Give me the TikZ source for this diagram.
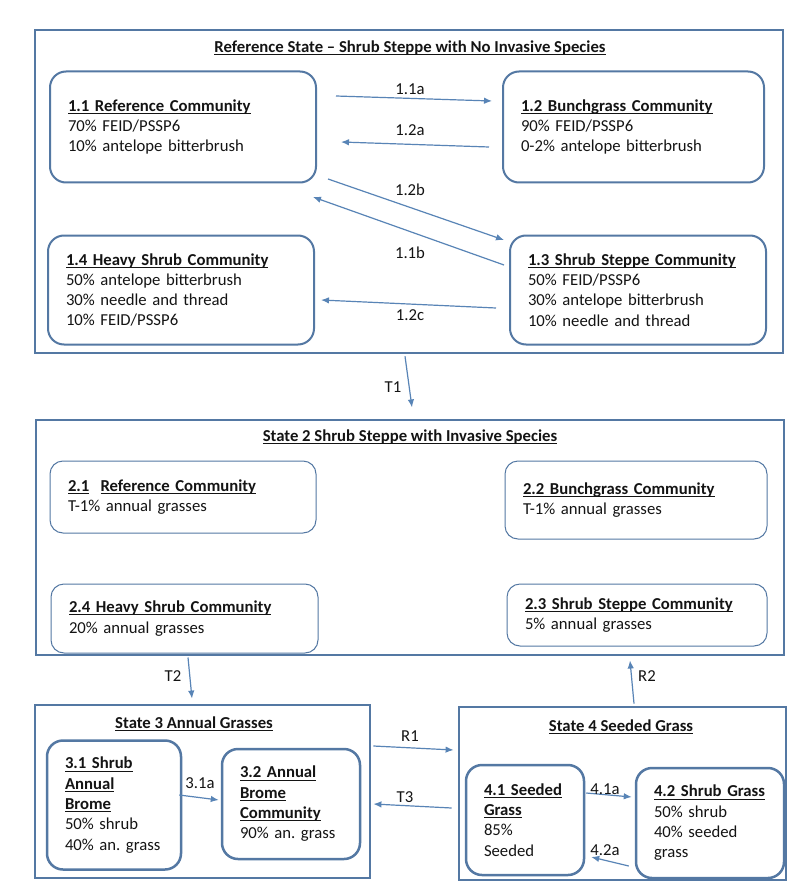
\documentclass[tikz,border=0pt]{standalone}
\usepackage{fontspec}
\setmainfont{Carlito}
\usetikzlibrary{calc,arrows.meta}
\definecolor{boxcol}{RGB}{84,120,163}
\definecolor{arrcol}{RGB}{88,132,182}
\definecolor{txt}{RGB}{20,20,20}
\newcommand\myul[1]{\setbox0\hbox{#1}\rlap{\rule[-2.6pt]{\wd0}{0.9pt}}\box0}
\frenchspacing
\begin{document}
\begin{tikzpicture}[x=1pt,y=-1pt,
  font=\fontsize{16.7}{20.3}\selectfont\frenchspacing, text=txt,
  statebox/.style={draw=boxcol, line width=2.5pt, inner sep=0pt},
  thinstate/.style={draw=boxcol, line width=1.1pt, inner sep=0pt},
  comm/.style={draw=boxcol, line width=2pt, rounded corners=16pt, align=left, inner xsep=18pt, inner ysep=0pt},
  thincomm/.style={comm, line width=1pt, rounded corners=13pt},
  arr/.style={draw=arrcol, line width=1.2pt, -{Latex[length=8pt,width=6.5pt]}},
  lbl/.style={inner sep=0pt},
  ttl/.style={font=\fontsize{16.7}{20.3}\selectfont\bfseries, inner sep=0pt}]
\useasboundingbox (0,0) rectangle (800,896);
\fill[white] (0,0) rectangle (800,896);

% State boxes
\node[statebox, minimum width=748pt, minimum height=323pt] (s1) at (409,191.5) {};
\node[thinstate, minimum width=748pt, minimum height=235pt] (s2) at (410,537.5) {};
\node[statebox, line width=2.8pt, minimum width=335pt, minimum height=173pt] (s3) at (202.5,791.5) {};
\node[statebox, line width=2.8pt, minimum width=327pt, minimum height=173pt] (s4) at (622.5,793.5) {};

\node[ttl] (t1) at (410,48) {\myul{Reference State – Shrub Steppe with No Invasive Species}};
\node[ttl] (t2) at (410,437) {\myul{State 2 Shrub Steppe with Invasive Species}};
\node[ttl] (t3) at (194,724) {\myul{State 3 Annual Grasses}};
\node[ttl] (t4) at (621,727) {\myul{State 4 Seeded Grass}};

% State 1 communities
\node[comm, text width=230pt, minimum height=111pt] (c11) at (183,127)
  {\textbf{\myul{1.1 Reference Community}}\\70\% FEID/PSSP6\\10\% antelope bitterbrush};
\node[comm, text width=225pt, minimum height=111pt] (c12) at (633.5,127)
  {\textbf{\myul{1.2 Bunchgrass Community}}\\90\% FEID/PSSP6\\0-2\% antelope bitterbrush};
\node[comm, text width=220pt, minimum height=109pt] (c13) at (638,290)
  {\textbf{\myul{1.3 Shrub Steppe Community}}\\50\% FEID/PSSP6\\30\% antelope bitterbrush\\10\% needle and thread};
\node[comm, text width=230pt, minimum height=109pt] (c14) at (181,290)
  {\textbf{\myul{1.4 Heavy Shrub Community}}\\50\% antelope bitterbrush\\30\% needle and thread\\10\% FEID/PSSP6};

% State 2 communities
\node[thincomm, text width=230pt, minimum height=72pt] (c21) at (183,497)
  {\textbf{\myul{2.1}\ \ \myul{Reference Community}}\\T-1\% annual grasses};
\node[thincomm, text width=226pt, minimum height=78pt] (c22) at (636,500)
  {\textbf{\myul{2.2 Bunchgrass Community}}\\T-1\% annual grasses};
\node[thincomm, text width=224pt, minimum height=62pt] (c23) at (637,615)
  {\textbf{\myul{2.3 Shrub Steppe Community}}\\5\% annual grasses};
\node[thincomm, text width=231pt, minimum height=69pt] (c24) at (184.5,618.5)
  {\textbf{\myul{2.4 Heavy Shrub Community}}\\20\% annual grasses};

% State 3 communities
\node[comm, line width=2.5pt, text width=98pt, minimum height=129pt] (c31) at (114,805)
  {\textbf{\myul{3.1 Shrub}}\\\textbf{\myul{Annual}}\\\textbf{\myul{Brome}}\\50\% shrub\\40\% an. grass};
\node[comm, line width=2.5pt, text width=102pt, minimum height=110pt] (c32) at (291,804)
  {\textbf{\myul{3.2 Annual}}\\\textbf{\myul{Brome}}\\\textbf{\myul{Community}}\\90\% an. grass};

% State 4 communities
\node[comm, line width=2.5pt, text width=82pt, minimum height=110pt] (c41) at (525,820)
  {\textbf{\myul{4.1 Seeded}}\\\textbf{\myul{Grass}}\\85\%\\Seeded};
\node[comm, line width=2.5pt, text width=112pt, minimum height=110pt] (c42) at (710,823)
  {\textbf{\myul{4.2 Shrub Grass}}\\50\% shrub\\40\% seeded\\grass};

% Arrows within state 1
\draw[arr] ($(c11.east)+(19,-31)$) -- ($(c12.west)+(-10,-26)$);
\draw[arr] ($(c12.west)+(-13,20)$) -- ($(c11.east)+(24,15)$);
\draw[arr] ($(c11.south east)+(11,-4.5)$) -- ($(c13.north west)+(-5,5.5)$);
\draw[arr] ($(c13.west)+(-5,-25)$) -- ($(c11.south east)+(-4,13.5)$);
\draw[arr] ($(c13.west)+(-13,18)$) -- ($(c14.east)+(6,10)$);
\node[lbl] (l11a) at (410,89) {1.1a};
\node[lbl] (l12a) at (410,130) {1.2a};
\node[lbl] (l12b) at (410,190) {1.2b};
\node[lbl] (l11b) at (410,253) {1.1b};
\node[lbl] (l12c) at (410,315) {1.2c};

% Transitions between states
\draw[arr] ($(s1.south)+(-4,2)$) -- ($(s2.north)+(2,-12)$);
\node[lbl] (lt1) at (393,387) {T1};
\draw[arr] ($(c24.south)+(3.5,4)$) -- ($(s3.north)+(-10.5,-5)$);
\node[lbl] (lt2) at (173,676) {T2};
\draw[arr] ($(s4.north)+(11.5,-2)$) -- ($(c23.south)+(-7,14)$);
\node[lbl] (lr2) at (647,676) {R2};
\draw[arr] ($(s3.east)+(2,-45.5)$) -- ($(s4.west)+(-4,-43.5)$);
\node[lbl] (lr1) at (410,736) {R1};
\draw[arr] ($(s4.west)+(-6,14.5)$) -- ($(s3.east)+(2,12.5)$);
\node[lbl] (lt3) at (405,797) {T3};

% Within states 3 and 4
\draw[arr] ($(c31.east)+(-3,-10)$) -- ($(c32.west)+(-2,-4)$);
\node[lbl] (l31a) at (200,783) {3.1a};
\draw[arr] ($(c41.east)+(1,-27)$) -- ($(c42.west)+(-3,-26)$);
\node[lbl] (l41a) at (605,789) {4.1a};
\draw[arr] ($(c42.west)+(-6,43)$) -- ($(c41.east)+(6,37)$);
\node[lbl] (l42a) at (605,850) {4.2a};
\end{tikzpicture}
\end{document}
